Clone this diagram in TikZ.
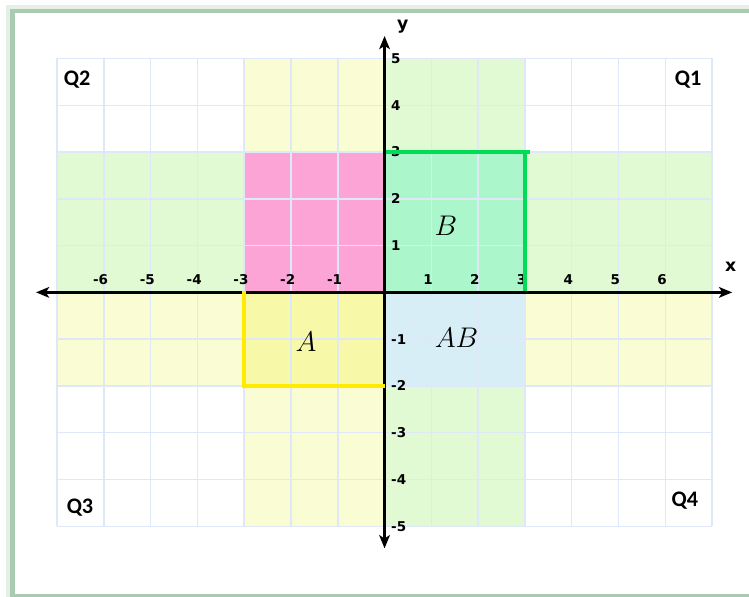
\documentclass[tikz,border=0pt]{standalone}
\usepackage{fontspec}
\newfontfamily\tickfont{DejaVu Sans}
\newfontfamily\quadfont{Carlito}
\usepackage{xcolor}
\definecolor{gridblue}{HTML}{DFE8F8}
\definecolor{bandyellow}{HTML}{FAFDD3}
\definecolor{bandgreen}{HTML}{E1FAD3}
\definecolor{setpink}{HTML}{FCA4D6}
\definecolor{setayellow}{HTML}{F8F9A8}
\definecolor{setbmint}{HTML}{ACF6CC}
\definecolor{setabblue}{HTML}{D7EEF7}
\definecolor{lineyellow}{HTML}{FFEA00}
\definecolor{linegreen}{HTML}{00DC55}
\definecolor{framegreen}{HTML}{A8CBB2}
\usepackage{tikz}
\usetikzlibrary{arrows.meta}
\tikzset{
  gridlines/.style={draw=gridblue, line width=0.9pt},
  axisline/.style={draw=black, line width=1.4pt,
    {Stealth[length=8pt,width=6.5pt,inset=2pt]}-{Stealth[length=8pt,width=6.5pt,inset=2pt]}},
  xtick/.style={font=\tickfont\bfseries\fontsize{8.2}{9}\selectfont, inner sep=1pt},
  ytick/.style={font=\tickfont\bfseries\fontsize{8.2}{9}\selectfont, inner sep=1pt, anchor=west},
  axislabel/.style={font=\tickfont\bfseries\fontsize{10.5}{12}\selectfont, inner sep=1pt},
  quadlabel/.style={font=\quadfont\bfseries\fontsize{13.5}{15}\selectfont, inner sep=1pt},
  setlabel/.style={font=\fontsize{19}{22}\selectfont, inner sep=1pt},
  setaline/.style={draw=lineyellow, line width=2.4pt},
  setbline/.style={draw=linegreen, line width=2.4pt}
}
\begin{document}
\begin{tikzpicture}
  \clip (-8.22,-6.49) rectangle (7.79,6.25);
  \fill[white] (-8.22,-6.49) rectangle (7.79,6.25);

  % frame
  \draw[framegreen!30, line width=3pt] (-8.04,-6.7) rectangle (8.5,6.10);
  \draw[framegreen, line width=2.6pt] (-7.95,-6.50) rectangle (8.5,6.01);

  % bands of the two sets
  \fill[bandyellow] (-3,-5) rectangle (0,5);
  \fill[bandyellow] (-7,-2) rectangle (7,0);
  \fill[bandgreen]  (0,-5) rectangle (3,5);
  \fill[bandgreen]  (-7,0) rectangle (7,3);
  \fill[setpink]    (-3,0) rectangle (0,3);
  \fill[setbmint]   (0,0) rectangle (3,3);
  \fill[setayellow] (-3,-2) rectangle (0,0);
  \fill[setabblue]  (0,-2) rectangle (3,0);
  \draw[gridlines] (-7,-5) grid (7,5);

  % axes
  \coordinate (xmin) at (-7.45,0);
  \coordinate (xmax) at (7.43,0);
  \coordinate (ymin) at (0,-5.47);
  \coordinate (ymax) at (0,5.48);
  \draw[axisline] (xmin) -- (xmax);
  \draw[axisline] (ymin) -- (ymax);
  \node[axislabel] (xlab) at (7.4,0.54) {x};
  \node[axislabel] (ylab) at (0.39,5.67) {y};

  \foreach \k in {-6,...,-1,1,2,...,6}
    \node[xtick] (xt\k) at (\k-0.07,0.27) {\k};
  \foreach \k in {-5,...,-1,1,2,...,5}
    \node[ytick] (yt\k) at (0.1,\k) {\k};

  % borders of A and B
  \coordinate (acorner) at (-3,-2);
  \draw[setaline] (-3,0.02) -- (acorner) -- (0.02,-2);
  \coordinate (bcorner) at (3,3);
  \draw[setbline] (0.03,3) -- (3.1,3);
  \draw[setbline] (bcorner) -- (3,0.04);

  % labels
  \node[setlabel] (seta)  at (-1.68,-1.06) {$A$};
  \node[setlabel] (setb)  at (1.31,1.42)   {$B$};
  \node[setlabel] (setab) at (1.54,-0.98)  {$AB$};

  \node[quadlabel] (q1) at (6.49,4.54)  {Q1};
  \node[quadlabel] (q2) at (-6.57,4.54) {Q2};
  \node[quadlabel] (q3) at (-6.51,-4.61) {Q3};
  \node[quadlabel] (q4) at (6.42,-4.45) {Q4};
\end{tikzpicture}
\end{document}
